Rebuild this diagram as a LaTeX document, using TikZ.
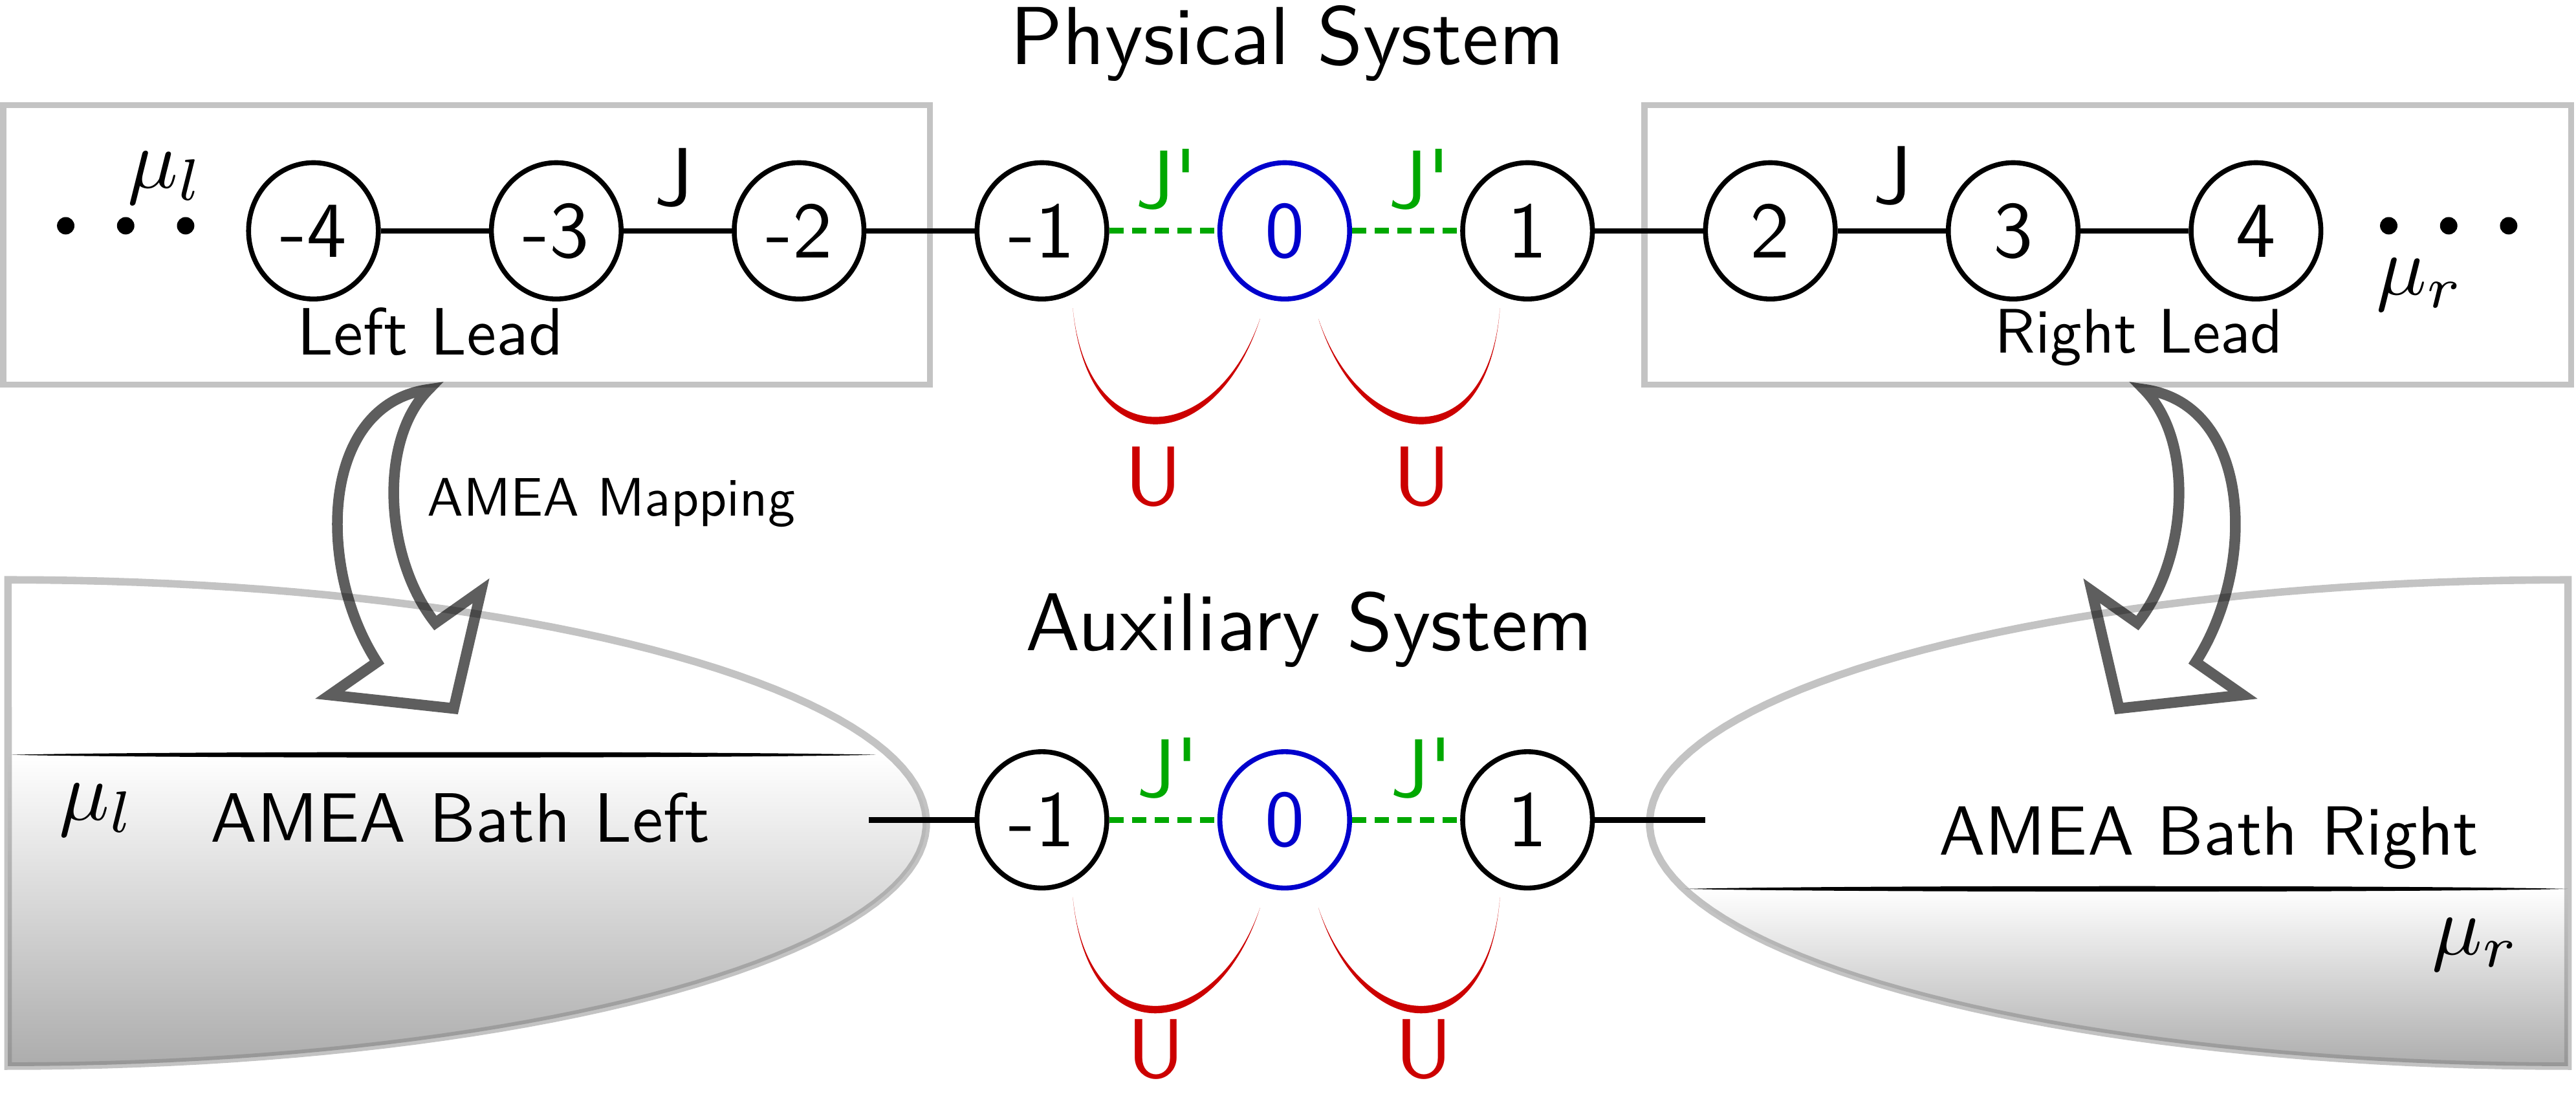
\RequirePackage{fix-cm}
\documentclass[tikz,border=0pt]{standalone}
\usepackage{graphicx}
\usetikzlibrary{shapes.geometric}
\definecolor{jgreen}{RGB}{0,168,0}
\definecolor{ublue}{RGB}{0,0,204}
\definecolor{ured}{RGB}{204,0,0}
% text set in the 10pt design size, then scaled
\newcommand{\tx}[2]{\scalebox{#1}{\fontsize{10pt}{12pt}\selectfont\sffamily #2}}
\tikzset{
  site/.style={draw, ellipse, line width=1.7pt, minimum width=1.58cm, minimum height=1.66cm,
    inner sep=0pt},
  censite/.style={site, draw=ublue, text=ublue},
  bond/.style={line width=1.9pt},
  hop/.style={draw=jgreen, line width=2pt, dash pattern=on 0.172cm off 0.104cm},
  txt/.style={anchor=base, inner sep=0pt},
  leadbox/.style={draw=gray, draw opacity=0.47, line width=2.1pt},
  bathline/.style={draw=gray, draw opacity=0.47, line width=2.6pt},
  maparrow/.style={draw=black, draw opacity=0.63, line width=0.13cm, line join=miter},
  dot/.style={fill=black}
}
\begin{document}
\begin{tikzpicture}[x=0.02cm, y=-0.02cm]
\useasboundingbox (0,0) rectangle (1568,665.5);

% ---------- baths (auxiliary system) ----------
\begin{scope}
  \clip plot[domain=-90:90, samples=90] ({4.9+559*cos(\x)},{500.9+148*sin(\x)}) -- cycle;
  \shade[top color=white, bottom color=black!33] (0,459.4) rectangle (570,652);
\end{scope}
\begin{scope}
  \clip plot[domain=90:270, samples=90] ({1563.1+559*cos(\x)},{500.9+148*sin(\x)}) -- cycle;
  \shade[top color=white, bottom color=black!33] (1000,541) rectangle (1568,652);
\end{scope}
% Fermi levels
\fill (7,459.4) .. controls (100,457.2) and (440,457.2) .. (533,459.4)
      .. controls (440,461.6) and (100,461.6) .. (7,459.4) -- cycle;
\fill (1025.5,541) .. controls (1120,538.8) and (1470,538.8) .. (1563,541)
      .. controls (1470,543.2) and (1120,543.2) .. (1025.5,541) -- cycle;
% bath borders
\draw[bathline] plot[domain=-90:90, samples=90] ({4.9+559*cos(\x)},{500.9+148*sin(\x)}) -- cycle;
\draw[bathline] plot[domain=90:270, samples=90] ({1563.1+559*cos(\x)},{500.9+148*sin(\x)}) -- cycle;

% ---------- lead boxes ----------
\draw[leadbox] (2,64) rectangle (566,234);
\draw[leadbox] (1001,64) rectangle (1565,234);

% ---------- physical system ----------
\node[site] (tm4) at (190.8,140.5) {\tx{2.75}{-4}};
\node[site] (tm3) at (338.6,140.5) {\tx{2.75}{-3}};
\node[site] (tm2) at (486.4,140.5) {\tx{2.75}{-2}};
\node[site] (tm1) at (634.2,140.5) {\tx{2.75}{-1}};
\node[censite] (t0) at (782,140.5) {\tx{2.75}{0}};
\node[site] (tp1) at (929.8,140.5) {\tx{2.75}{1}};
\node[site] (tp2) at (1077.6,140.5) {\tx{2.75}{2}};
\node[site] (tp3) at (1225.4,140.5) {\tx{2.75}{3}};
\node[site] (tp4) at (1373.2,140.5) {\tx{2.75}{4}};

\draw[bond] (tm4) -- (tm3);
\draw[bond] (tm3) -- (tm2);
\draw[bond] (tm2) -- (tm1);
\draw[hop] (tm1) -- (t0);
\draw[hop] (t0) -- (tp1);
\draw[bond] (tp1) -- (tp2);
\draw[bond] (tp2) -- (tp3);
\draw[bond] (tp3) -- (tp4);

\fill[dot] (40,137.4) circle[radius=0.106cm];
\fill[dot] (76.5,137.4) circle[radius=0.106cm];
\fill[dot] (113,137.4) circle[radius=0.106cm];
\fill[dot] (1454,137.4) circle[radius=0.106cm];
\fill[dot] (1490.5,137.4) circle[radius=0.106cm];
\fill[dot] (1527,137.4) circle[radius=0.106cm];

% ---------- auxiliary system ----------
\node[site] (bm1) at (634.2,499) {\tx{2.75}{-1}};
\node[censite] (b0) at (782,499) {\tx{2.75}{0}};
\node[site] (bp1) at (929.8,499) {\tx{2.75}{1}};
\coordinate (lbath) at (529,499);
\coordinate (rbath) at (1038,499);
\draw[bond] (lbath) -- (bm1);
\draw[hop] (bm1) -- (b0);
\draw[hop] (b0) -- (bp1);
\draw[bond] (bp1) -- (rbath);

% ---------- U interactions ----------
\foreach \yc in {140.5,499}{
  \fill[ured] (653,{\yc+47}) .. controls (662,{\yc+143.5}) and (740,{\yc+137}) .. (767,{\yc+53.5})
     .. controls (740,{\yc+131}) and (662,{\yc+137.5}) .. (653,{\yc+47}) -- cycle;
  \fill[ured] (802.5,{\yc+53.5}) .. controls (829,{\yc+137}) and (906,{\yc+143.5}) .. (913,{\yc+47})
     .. controls (906,{\yc+137.5}) and (829,{\yc+131}) .. (802.5,{\yc+53.5}) -- cycle;
}

% ---------- mapping arrows ----------
\draw[maparrow] (238.5,427.1) -- (276.2,431.2) -- (292.8,359.6) -- (265,379.2)
   .. controls (234,340) and (230,268) .. (261,237)
   .. controls (195,246) and (192,345) .. (229.5,403) -- (200.8,423) -- cycle;
\begin{scope}[shift={(1566,0)}, xscale=-1]
\draw[maparrow] (238.5,427.1) -- (276.2,431.2) -- (292.8,359.6) -- (265,379.2)
   .. controls (234,340) and (230,268) .. (261,237)
   .. controls (195,246) and (192,345) .. (229.5,403) -- (200.8,423) -- cycle;
\end{scope}

% ---------- texts ----------
\node[txt] (phys) at (783.5,39) {\tx{2.85}{Physical System}};
\node[txt] (aux) at (797,396) {\tx{2.84}{Auxiliary System}};
\node[txt] (llead) at (262,215.8) {\tx{2.32}{Left Lead}};
\node[txt] (rlead) at (1302,214.6) {\tx{2.18}{Right Lead}};
\node[txt] (amap) at (372,314) {\tx{1.88}{AMEA Mapping}};
\node[txt] (lbathtxt) at (280,512.6) {\tx{2.42}{AMEA Bath Left}};
\node[txt] (rbathtxt) at (1344.5,520.5) {\tx{2.41}{AMEA Bath Right}};

\node[txt] (mult) at (101,114.4) {\tx{2.9}{$\mu_l$}};
\node[txt] (murt) at (1473,179.5) {\tx{2.9}{$\mu_r$}};
\node[txt] (mulb) at (59.3,499) {\tx{2.9}{$\mu_l$}};
\node[txt] (murb) at (1507,581) {\tx{2.9}{$\mu_r$}};

\node[txt] (jl) at (410,125) {\tx{2.85}{J}};
\node[txt] (jr) at (1152,124) {\tx{2.85}{J}};
\node[txt, text=jgreen] (jplt) at (710,126.5) {\tx{2.85}{J\textquotesingle}};
\node[txt, text=jgreen] (jprt) at (864,126.5) {\tx{2.85}{J\textquotesingle}};
\node[txt, text=jgreen] (jplb) at (711,485) {\tx{2.85}{J\textquotesingle}};
\node[txt, text=jgreen] (jprb) at (865,485) {\tx{2.85}{J\textquotesingle}};

\node[txt, text=ured] (ult) at (702,307.5) {\tx{2.9}{U}};
\node[txt, text=ured] (urt) at (865.5,307.5) {\tx{2.9}{U}};
\node[txt, text=ured] (ulb) at (703.5,656) {\tx{2.9}{U}};
\node[txt, text=ured] (urb) at (866.8,656) {\tx{2.9}{U}};
\end{tikzpicture}
\end{document}
